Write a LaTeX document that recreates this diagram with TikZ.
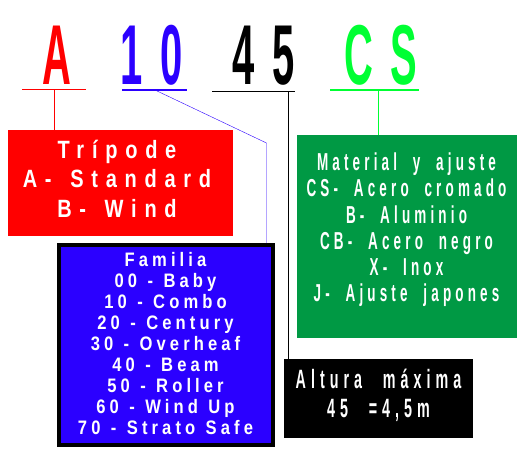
\documentclass[tikz,border=0pt]{standalone}
\usepackage{fontspec}
\setmainfont{Liberation Sans}
\newfontfamily\bigcodefont[FakeStretch=0.47,LetterSpace=21]{Liberation Sans}
\newfontfamily\redboxfont[FakeStretch=0.8,LetterSpace=31,WordSpace=1.4]{Liberation Sans}
\newfontfamily\blueboxfont[FakeStretch=0.85,LetterSpace=21,WordSpace=1.2]{Liberation Sans}
\newfontfamily\greenboxfont[FakeStretch=0.55,LetterSpace=17,WordSpace=2]{Liberation Sans}
\newfontfamily\blackboxfont[FakeStretch=0.54,LetterSpace=19,WordSpace=2.3]{Liberation Sans}
\definecolor{codered}{RGB}{255,0,0}
\definecolor{codeblue}{RGB}{43,0,255}
\definecolor{codegreen}{RGB}{0,255,51}
\definecolor{boxgreen}{RGB}{0,153,68}
\tikzset{
  codechar/.style={anchor=base, inner sep=0pt, font=\bigcodefont\bfseries\fontsize{85}{85}\selectfont},
  codebox/.style={rectangle, inner sep=0pt},
  boxtext/.style={text=white, align=center, inner sep=0pt, text depth=0pt}
}

\begin{document}
\begin{tikzpicture}[x=1pt,y=-1pt]
		\useasboundingbox (0,0) rectangle (526,472);
		
		% the code letters
		\node (codeA) [codechar, text=codered] at (57,84) {A};
		\node (code10) [codechar, text=codeblue] at (152,84) {10};
		\node (code45) [codechar, text=black] at (264,84) {45};
		\node (codeCS) [codechar, text=codegreen] at (381,84) {CS};
		
		% the boxes
		\node (tripode) [codebox, fill=codered, minimum width=225pt, minimum height=106pt] at (120.5,183) {};
		\node (material) [codebox, fill=boxgreen, minimum width=220pt, minimum height=203pt] at (407,236.5) {};
		\node (familia) [codebox, fill=codeblue, draw=black, line width=4pt, minimum width=214pt, minimum height=200pt] at (166,345) {};
		\node (altura) [codebox, fill=black, minimum width=189pt, minimum height=79pt] at (378.5,398.5) {};
		
		\node (tripodetext) [boxtext, text height=77pt, font=\redboxfont\bfseries\fontsize{25}{29.5}\selectfont] at (117,178.5) {Trípode\\A- Standard\\B- Wind};
		\node (materialtext) [boxtext, text height=148.5pt, font=\greenboxfont\bfseries\fontsize{24.5}{26.2}\selectfont] at (406.5,227.5) {Material y ajuste\\CS- Acero cromado\\B- Aluminio\\CB- Acero negro\\X- Inox\\J- Ajuste japones};
		\node (familiatext) [boxtext, text height=182.8pt, font=\blueboxfont\bfseries\fontsize{19.5}{21.1}\selectfont] at (165.5,343.5) {Familia\\00 - Baby\\10 - Combo\\20 - Century\\30 - Overheaf\\40 - Beam\\50 - Roller\\60 - Wind Up\\70 - Strato Safe};
		\node (alturatext) [boxtext, text height=48pt, font=\blackboxfont\bfseries\fontsize{26.5}{29}\selectfont] at (378.5,393.5) {Altura máxima\\45 =4,5m};
		
		% underlines and leaders
		\coordinate (redtap) at (54,89.5);
		\coordinate (bluetap) at (155,90);
		\coordinate (bluebend) at (266.5,143);
		\coordinate (blacktap) at (288.5,91.3);
		\coordinate (greentap) at (377.7,90);
		
		\draw [codered, line width=1.2pt] (22,89.5) -- (86,89.5);
		\draw [codeblue, line width=1.2pt] (122,90) -- (187,90);
		\draw [black, line width=1.2pt] (212,91.3) -- (295,91.3);
		\draw [codegreen, line width=1.2pt] (330,90) -- (419,90);
		
		\draw [codered] (redtap) -- (redtap |- tripode.north);
		\draw [codeblue] (bluetap) -- (bluebend) -- (bluebend |- familia.north);
		\draw [black] (blacktap) -- (blacktap |- altura.north);
		\draw [codegreen] (greentap) -- (greentap |- material.north);
		
\end{tikzpicture}
\end{document}
